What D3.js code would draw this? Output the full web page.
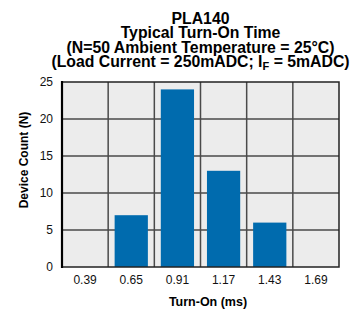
<!DOCTYPE html>
<html><head><meta charset="utf-8">
<script src="https://cdn.jsdelivr.net/npm/d3@7"></script>
<style>
body{margin:0;background:#fff;}
svg{display:block;font-family:"Liberation Sans",Arial,Helvetica,sans-serif;}
</style></head><body>
<svg id="c" width="358" height="314"></svg>
<script>
const categories = ["0.39","0.65","0.91","1.17","1.43","1.69"];
const counts = [0, 7, 24, 13, 6, 0];
const yTicks = [0,5,10,15,20,25];
const titleLines = ["PLA140","Typical Turn-On Time","(N=50 Ambient Temperature = 25°C)"];

const svg = d3.select("#c");
const m = {l:62, r:339, t:82, b:267};
const x = d3.scaleBand().domain(categories).range([m.l, m.r]).paddingInner(0.28).paddingOuter(0.14);
const xg = d3.scaleBand().domain(categories).range([m.l, m.r]);
const y = d3.scaleLinear().domain([0,25]).range([m.b, m.t]);

svg.append("rect").attr("x",m.l).attr("y",m.t).attr("width",m.r-m.l).attr("height",m.b-m.t).attr("fill","#ececec");

// grid
svg.append("g").selectAll("line").data(yTicks.slice(1,-1)).join("line")
  .attr("x1",m.l).attr("x2",m.r).attr("y1",d=>y(d)).attr("y2",d=>y(d))
  .attr("stroke","#4a4a4a").attr("stroke-width",1.5);
svg.append("g").selectAll("line").data(categories.slice(1)).join("line")
  .attr("x1",d=>xg(d)).attr("x2",d=>xg(d)).attr("y1",m.t).attr("y2",m.b)
  .attr("stroke","#4a4a4a").attr("stroke-width",1.5);

// bars
svg.append("g").selectAll("rect").data(categories.map((c,i)=>({c,v:counts[i]}))).join("rect")
  .attr("x",d=>x(d.c)).attr("width",x.bandwidth())
  .attr("y",d=>y(d.v)).attr("height",d=>y(0)-y(d.v))
  .attr("fill","#006bae");

// border
svg.append("rect").attr("x",m.l).attr("y",m.t).attr("width",m.r-m.l).attr("height",m.b-m.t)
  .attr("fill","none").attr("stroke","#222").attr("stroke-width",1.5);
svg.append("line").attr("x1",m.l).attr("x2",m.l).attr("y1",m.t-1).attr("y2",m.b+1).attr("stroke","#000").attr("stroke-width",2.2);

// axes
const yAxis = d3.axisLeft(y).tickValues(yTicks).tickSize(0).tickPadding(9);
const gy = svg.append("g").attr("transform",`translate(${m.l},0)`).call(yAxis);
gy.select(".domain").remove();
gy.selectAll("text").attr("font-size",12).attr("fill","#111").attr("font-family","Liberation Sans, Arial, sans-serif");

const xAxis = d3.axisBottom(xg).tickSize(0).tickPadding(8);
const gx = svg.append("g").attr("transform",`translate(0,${m.b})`).call(xAxis);
gx.select(".domain").remove();
gx.selectAll("text").attr("font-size",12).attr("fill","#111").attr("font-family","Liberation Sans, Arial, sans-serif");

// titles
const t = svg.append("g").attr("font-weight","bold").attr("font-size",15.8).attr("text-anchor","middle").attr("fill","#000");
titleLines.forEach((s,i)=>t.append("text").attr("x",200.5).attr("y",24+i*14.4).text(s));
const l4 = t.append("text").attr("x",200.5).attr("y",24+3*14.4);
l4.append("tspan").text("(Load Current = 250mADC; I");
l4.append("tspan").attr("font-size",11).attr("dy",3).text("F");
l4.append("tspan").attr("dy",-3).text(" = 5mADC)");

svg.append("text").attr("x",208).attr("y",306).attr("text-anchor","middle").attr("font-weight","bold").attr("font-size",12.5).text("Turn-On (ms)");
svg.append("text").attr("transform","translate(28,160) rotate(-90)").attr("text-anchor","middle").attr("font-weight","bold").attr("font-size",12).text("Device Count (N)");
</script></body></html>
